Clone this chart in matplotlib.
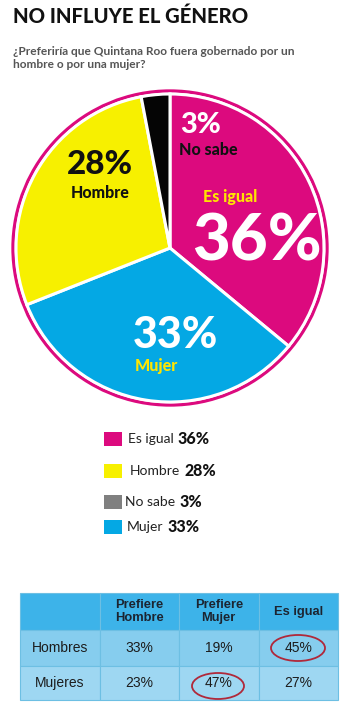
import matplotlib
matplotlib.use("Agg")
import matplotlib.pyplot as plt
from matplotlib.patches import Circle, Rectangle, Ellipse

# data
slices = ["Es igual", "Mujer", "Hombre", "No sabe"]
shares = [36, 33, 28, 3]
slice_colors = ["#DC0A7E", "#04A8E4", "#F7F000", "#050505"]

legend_names = ["Es igual", "Hombre", "No sabe", "Mujer"]
legend_vals = [36, 28, 3, 33]
legend_colors = ["#DC0A7E", "#F7F000", "#808080", "#04A8E4"]

col_labels = ["", "Prefiere\nHombre", "Prefiere\nMujer", "Es igual"]
row_labels = ["Hombres", "Mujeres"]
table_vals = [[33, 19, 45], [23, 47, 27]]

W, H = 364, 713
fig = plt.figure(figsize=(W / 100, H / 100), dpi=100)
ax = fig.add_axes([0, 0, 1, 1])
ax.set_xlim(0, W)
ax.set_ylim(0, H)
ax.axis("off")


def Y(y):
    return H - y


HEAVY = dict(family=["Lato", "DejaVu Sans"], fontweight="black")

ax.text(13, Y(16), "NO INFLUYE EL GÉNERO", fontsize=14.6, color="#111111",
        ha="left", va="center", **HEAVY)
ax.text(13, Y(58), "¿Preferiría que Quintana Roo fuera gobernado por un\nhombre o por una mujer?",
        fontsize=8.6, color="#555555", ha="left", va="center", fontweight="bold",
        family=["Lato", "DejaVu Sans"], linespacing=1.2)

# pie
cx, cy, r = 170, Y(248), 154
ax.add_patch(Circle((cx, cy), r + 3, facecolor="white", edgecolor="#DC0A7E", lw=2.4, zorder=1))
ax.pie(shares, colors=slice_colors, startangle=90, counterclock=False,
       center=(cx, cy), radius=r, frame=True,
       wedgeprops=dict(edgecolor="white", linewidth=2.2))
ax.set_xlim(0, W)
ax.set_ylim(0, H)
ax.axis("off")

ax.text(201, Y(125), f"{shares[3]}%", fontsize=21, color="white", ha="center", va="center", **HEAVY)
ax.text(208, Y(150), slices[3], fontsize=11.5, color="#111111", ha="center", va="center", **HEAVY)
ax.text(230, Y(197), slices[0], fontsize=11.5, color="#FFE500", ha="center", va="center", **HEAVY)
ax.text(257, Y(242), f"{shares[0]}%", fontsize=47, color="white", ha="center", va="center", **HEAVY)
ax.text(100, Y(165), f"{shares[2]}%", fontsize=24, color="#111111", ha="center", va="center", **HEAVY)
ax.text(100, Y(193), slices[2], fontsize=11.5, color="#111111", ha="center", va="center", **HEAVY)
ax.text(175, Y(335), f"{shares[1]}%", fontsize=31, color="white", ha="center", va="center", **HEAVY)
ax.text(156, Y(366), slices[1], fontsize=11.5, color="#FFE500", ha="center", va="center", **HEAVY)

# legend
leg_y = [439, 471, 502, 527]
leg_x = [128, 130, 125, 127]
for name, val, col, y, x in zip(legend_names, legend_vals, legend_colors, leg_y, leg_x):
    ax.add_patch(Rectangle((104, Y(y) - 7), 18, 14, facecolor=col, edgecolor="none"))
    t = ax.text(x, Y(y), name, fontsize=10, color="#222222", ha="left", va="center",
                family=["Lato", "DejaVu Sans"])
    ax.annotate(f"{val}%", xy=(1, 0.5), xycoords=t, xytext=(3, 0), textcoords="offset points",
                fontsize=11.5, color="#111111", ha="left", va="center", **HEAVY)

# table
x0, x1 = 20, 338
y_top, y_head, y_mid, y_bot = 593, 630, 666, 700
tab = ax.table(cellText=[[row_labels[i]] + [f"{v}%" for v in table_vals[i]] for i in range(2)],
               colLabels=col_labels, cellLoc="center",
               bbox=[x0 / W, Y(y_bot) / H, (x1 - x0) / W, (y_bot - y_top) / H])
tab.auto_set_font_size(False)
row_cols = ["#3DB3E9", "#86CDEE", "#9ED7F2"]
for (ri, ci), cell in tab.get_celld().items():
    cell.set_edgecolor("#6DBFE3")
    cell.set_linewidth(0.8)
    cell.set_facecolor(row_cols[ri])
    txt = cell.get_text()
    txt.set_family(["Liberation Sans", "DejaVu Sans"])
    if ri == 0:
        txt.set_fontsize(9.3)
        txt.set_fontweight("bold")
        txt.set_color("#1c2430")
        txt.set_linespacing(1.1)
    else:
        txt.set_fontsize(10)
        txt.set_color("#1c1c1c")
heights = [(y_head - y_top) / H, (y_mid - y_head) / H, (y_bot - y_mid) / H]
for (ri, ci), cell in tab.get_celld().items():
    cell.set_height(heights[ri])

ax.add_patch(Ellipse((298, Y(648)), 54, 26, facecolor="none", edgecolor="#B0283A", lw=1.3, zorder=5))
ax.add_patch(Ellipse((218, Y(686)), 52, 26, facecolor="none", edgecolor="#B0283A", lw=1.3, zorder=5))

fig.savefig("out.png", dpi=100)
